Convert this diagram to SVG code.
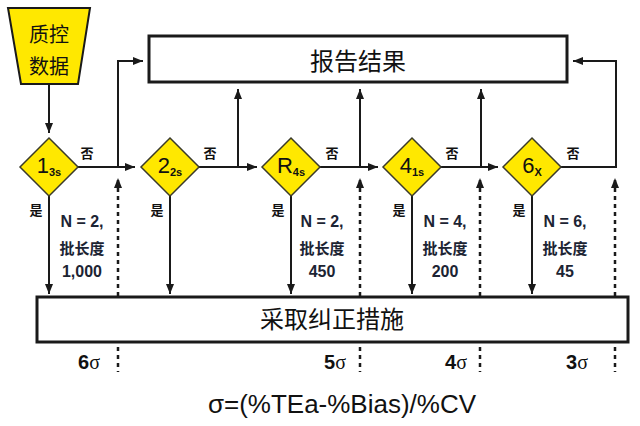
<svg xmlns="http://www.w3.org/2000/svg" width="640" height="426" viewBox="0 0 640 426">
<style>
.ln{fill:none;stroke:#1a1a1a;stroke-width:2}
.dash{fill:none;stroke:#1a1a1a;stroke-width:2.5;stroke-dasharray:4 4}
.box{fill:#fff;stroke:#1a1a1a;stroke-width:3}
.dia{fill:#FFE800;stroke:#3a3a2a;stroke-width:1.5}
.cjk{font-family:"Noto Sans CJK SC","Liberation Sans",sans-serif}
.big{font-size:24px;fill:#111}
.lab{font-family:"Noto Sans CJK SC","Liberation Sans",sans-serif;font-size:13px;font-weight:bold;fill:#111}
.dl{font-family:"Liberation Sans","Noto Sans",sans-serif;font-size:22px;fill:#111}
.sub{font-size:11px;font-weight:bold}
.info{font-family:"Liberation Sans","Noto Sans CJK SC",sans-serif;font-size:16px;font-weight:bold;fill:#1c2433;text-anchor:middle}
.info2{font-family:"Noto Sans CJK SC","Liberation Sans",sans-serif;font-size:15px;font-weight:bold;fill:#1c2433;text-anchor:middle}
.sig{font-family:"Liberation Sans",sans-serif;font-size:20px;font-weight:bold;fill:#111;text-anchor:end}
.sg{font-family:"Liberation Serif",serif;font-weight:normal}
</style>
<defs>
<marker id="ah" markerUnits="userSpaceOnUse" markerWidth="10" markerHeight="8" refX="10" refY="4" orient="auto">
<path d="M0,0 L10,4 L0,8 z" fill="#1a1a1a"/>
</marker>
</defs>

<g id="source">
<polygon points="8,8 90,8 78,84 21,84" fill="#FFE800" stroke="#1a1a1a" stroke-width="2"/>
<text class="cjk" x="49" y="42" font-size="20" text-anchor="middle" fill="#111">质控</text>
<text class="cjk" x="49" y="74" font-size="20" text-anchor="middle" fill="#111">数据</text>
</g>

<g id="report">
<rect class="box" x="149" y="36" width="418" height="46"/>
<text class="cjk big" x="358" y="70" text-anchor="middle">报告结果</text>
</g>

<g id="action">
<rect class="box" x="37" y="297" width="591" height="45"/>
<text class="cjk big" x="332" y="328" text-anchor="middle">采取纠正措施</text>
</g>

<g id="connectors">
<line class="ln" x1="49" y1="84" x2="49" y2="133" marker-end="url(#ah)"/>
<line class="ln" x1="78" y1="167" x2="135" y2="167" marker-end="url(#ah)"/>
<polyline class="ln" points="118,167 118,61 143,61" marker-end="url(#ah)"/>
<line class="ln" x1="199" y1="167" x2="257" y2="167" marker-end="url(#ah)"/>
<line class="ln" x1="238" y1="167" x2="238" y2="89" marker-end="url(#ah)"/>
<line class="ln" x1="320" y1="167" x2="378" y2="167" marker-end="url(#ah)"/>
<line class="ln" x1="360" y1="167" x2="360" y2="89" marker-end="url(#ah)"/>
<line class="ln" x1="441" y1="167" x2="498" y2="167" marker-end="url(#ah)"/>
<line class="ln" x1="481" y1="167" x2="481" y2="89" marker-end="url(#ah)"/>
<polyline class="ln" points="561,167 616,167 616,61 573,61" marker-end="url(#ah)"/>
<line class="ln" x1="49" y1="196" x2="49" y2="294" marker-end="url(#ah)"/>
<line class="ln" x1="170" y1="196" x2="170" y2="294" marker-end="url(#ah)"/>
<line class="ln" x1="291" y1="196" x2="291" y2="294" marker-end="url(#ah)"/>
<line class="ln" x1="412" y1="196" x2="412" y2="294" marker-end="url(#ah)"/>
<line class="ln" x1="532" y1="196" x2="532" y2="294" marker-end="url(#ah)"/>
<line class="dash" x1="118" y1="296" x2="118" y2="178" marker-end="url(#ah)"/>
<line class="dash" x1="360" y1="296" x2="360" y2="178" marker-end="url(#ah)"/>
<line class="dash" x1="480" y1="296" x2="480" y2="178" marker-end="url(#ah)"/>
<line class="dash" x1="615" y1="296" x2="615" y2="178" marker-end="url(#ah)"/>
<line class="dash" x1="118" y1="347" x2="118" y2="372"/>
<line class="dash" x1="360" y1="347" x2="360" y2="372"/>
<line class="dash" x1="480" y1="347" x2="480" y2="372"/>
<line class="dash" x1="615" y1="347" x2="615" y2="372"/>
<text class="lab" x="87" y="158" text-anchor="middle">否</text>
<text class="lab" x="210" y="158" text-anchor="middle">否</text>
<text class="lab" x="332" y="158" text-anchor="middle">否</text>
<text class="lab" x="452" y="158" text-anchor="middle">否</text>
<text class="lab" x="573" y="158" text-anchor="middle">否</text>
<text class="lab" x="36" y="215" text-anchor="middle">是</text>
<text class="lab" x="157" y="215" text-anchor="middle">是</text>
<text class="lab" x="278" y="215" text-anchor="middle">是</text>
<text class="lab" x="399" y="215" text-anchor="middle">是</text>
<text class="lab" x="519" y="215" text-anchor="middle">是</text>
</g>

<g id="rule-13s">
<polygon class="dia" points="49,138 78,167 49,196 20,167"/>
<text class="dl" x="49" y="173" text-anchor="middle">1<tspan class="sub" dy="3">3s</tspan></text>
<text class="info" x="82" y="227">N = 2,</text>
<text class="info2" x="82" y="254">批长度</text>
<text class="info" x="82" y="277">1,000</text>
</g>

<g id="rule-22s">
<polygon class="dia" points="170,138 199,167 170,196 141,167"/>
<text class="dl" x="170" y="173" text-anchor="middle">2<tspan class="sub" dy="3">2s</tspan></text>
</g>

<g id="rule-R4s">
<polygon class="dia" points="291,138 320,167 291,196 262,167"/>
<text class="dl" x="291" y="173" text-anchor="middle">R<tspan class="sub" dy="3">4s</tspan></text>
<text class="info" x="322" y="227">N = 2,</text>
<text class="info2" x="322" y="254">批长度</text>
<text class="info" x="322" y="277">450</text>
</g>

<g id="rule-41s">
<polygon class="dia" points="412,138 441,167 412,196 383,167"/>
<text class="dl" x="412" y="173" text-anchor="middle">4<tspan class="sub" dy="3">1s</tspan></text>
<text class="info" x="445" y="227">N = 4,</text>
<text class="info2" x="445" y="254">批长度</text>
<text class="info" x="445" y="277">200</text>
</g>

<g id="rule-6x">
<polygon class="dia" points="532,138 561,167 532,196 503,167"/>
<text class="dl" x="532" y="173" text-anchor="middle">6<tspan class="sub" dy="3">X</tspan></text>
<text class="info" x="565" y="227">N = 6,</text>
<text class="info2" x="565" y="254">批长度</text>
<text class="info" x="565" y="277">45</text>
</g>

<g id="sigma-scale">
<text class="sig" x="100" y="369">6<tspan class="sg">σ</tspan></text>
<text class="sig" x="346" y="369">5<tspan class="sg">σ</tspan></text>
<text class="sig" x="467" y="369">4<tspan class="sg">σ</tspan></text>
<text class="sig" x="588" y="369">3<tspan class="sg">σ</tspan></text>
<text x="342" y="413" font-family="Liberation Sans, sans-serif" font-size="26" text-anchor="middle" fill="#111">σ=(%TEa-%Bias)/%CV</text>
</g>
</svg>
